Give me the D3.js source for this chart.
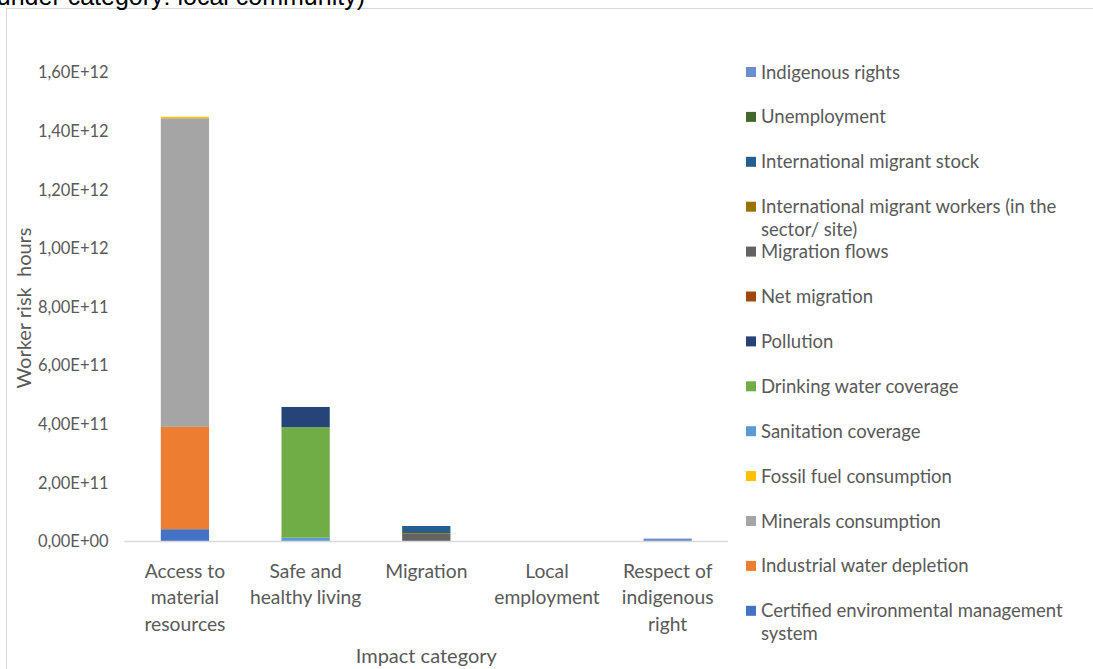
<!DOCTYPE html>
<html>
<head>
<meta charset="utf-8">
<script src="https://cdn.jsdelivr.net/npm/d3@7/dist/d3.min.js"></script>
<style>
  html, body { margin: 0; padding: 0; background: #fff; }
  svg { display: block; }
  text { font-family: Lato, "Open Sans", sans-serif; }
</style>
</head>
<body>
<svg id="chart" width="1093" height="669"></svg>
<script>
// Impact categories (x axis), with the line breaks used under the axis
const categories = [
  "Access to material resources",
  "Safe and healthy living",
  "Migration",
  "Local employment",
  "Respect of indigenous right"
];
const categoryLines = [
  ["Access to", "material", "resources"],
  ["Safe and", "healthy living"],
  ["Migration"],
  ["Local", "employment"],
  ["Respect of", "indigenous", "right"]
];

// Series, stacked bottom to top (worker risk hours per category)
const seriesNames = [
  "Certified environmental management system",
  "Industrial water depletion",
  "Minerals consumption",
  "Fossil fuel consumption",
  "Sanitation coverage",
  "Drinking water coverage",
  "Pollution",
  "Net migration",
  "Migration flows",
  "International migrant workers (in the sector/ site)",
  "International migrant stock",
  "Unemployment",
  "Indigenous rights"
];
const certifiedEms       = [4.2e10, 0, 0, 0, 0];
const industrialWater    = [3.49e11, 0, 0, 0, 0];
const mineralsConsumption= [1.053e12, 0, 0, 0, 0];
const fossilFuel         = [5e9, 0, 0, 0, 0];
const sanitation         = [0, 1.3e10, 0, 0, 0];
const drinkingWater      = [0, 3.77e11, 0, 0, 0];
const pollution          = [0, 6.9e10, 0, 0, 0];
const netMigration       = [0, 0, 0, 0, 0];
const migrationFlows     = [0, 0, 2.6e10, 0, 0];
const migrantWorkers     = [0, 0, 3e9, 0, 0];
const migrantStock       = [0, 0, 2.4e10, 0, 0];
const unemployment       = [0, 0, 0, 0, 0];
const indigenousRights   = [0, 0, 0, 0, 1e10];

const seriesValues = [
  certifiedEms, industrialWater, mineralsConsumption, fossilFuel,
  sanitation, drinkingWater, pollution, netMigration, migrationFlows,
  migrantWorkers, migrantStock, unemployment, indigenousRights
];
const seriesColors = [
  "#4472C4", "#ED7D31", "#A5A5A5", "#FFC000", "#5B9BD5", "#70AD47",
  "#264478", "#9E480E", "#636363", "#997300", "#255E91", "#43682B", "#698ED0"
];

const yTicks = [0, 2e11, 4e11, 6e11, 8e11, 1e12, 1.2e12, 1.4e12, 1.6e12];

// Build the table for d3.stack
const table = categories.map((c, i) => {
  const row = { category: c };
  seriesNames.forEach((s, j) => { row[s] = seriesValues[j][i]; });
  return row;
});
const stacked = d3.stack().keys(seriesNames)(table);

const svg = d3.select("#chart");
const textColor = "#595959";

// Outer chart frame
svg.append("rect")
  .attr("x", 6.5).attr("y", 8.5)
  .attr("width", 1200).attr("height", 800)
  .attr("fill", "none").attr("stroke", "#D9D9D9").attr("stroke-width", 1);

// Caption line running off the top of the page
svg.append("text")
  .attr("x", 365).attr("y", 5)
  .attr("text-anchor", "end")
  .attr("font-size", 25)
  .attr("fill", "#000")
  .style("font-family", "'Liberation Sans', sans-serif")
  .text("(Subcategories under category: local community)");

const plot = { left: 124.6, right: 728, top: 72.5, bottom: 541.5 };

const x = d3.scaleBand()
  .domain(categories)
  .range([plot.left, plot.right])
  .paddingInner(0.6).paddingOuter(0.3);

const y = d3.scaleLinear()
  .domain([0, 1.6e12])
  .range([plot.bottom, plot.top]);

// Bars
svg.append("g").selectAll("g")
  .data(stacked)
  .join("g")
  .attr("fill", (d, i) => seriesColors[i])
  .selectAll("rect")
  .data(d => d.map((v, i) => ({ v, cat: categories[i] })))
  .join("rect")
  .attr("x", d => x(d.cat))
  .attr("width", x.bandwidth())
  .attr("y", d => y(d.v[1]))
  .attr("height", d => Math.max(0, y(d.v[0]) - y(d.v[1])));

// Y tick labels: "1,60E+12" style
const sciFormat = v => {
  const [m, e] = v.toExponential(2).split("e");
  const sign = e[0] === "-" ? "-" : "+";
  const exp = e.replace(/[+-]/, "").padStart(2, "0");
  return m.replace(".", ",") + "E" + sign + exp;
};
const yAxis = d3.axisLeft(y).tickValues(yTicks).tickFormat(sciFormat).tickSize(0).tickPadding(16);
const yg = svg.append("g").attr("transform", `translate(${plot.left},0)`).call(yAxis);
yg.select(".domain").remove();
yg.selectAll("text")
  .attr("fill", textColor)
  .attr("font-size", 16.5)
  .style("font-family", "Lato, sans-serif");

// X axis baseline
const xAxis = d3.axisBottom(x).tickSize(0).tickFormat("");
const xg = svg.append("g").attr("transform", `translate(0,${plot.bottom})`).call(xAxis);
xg.select(".domain")
  .attr("stroke", "#D9D9D9").attr("stroke-width", 1.5)
  .attr("d", `M${plot.left},0H${plot.right}`);

// Category labels (multi-line)
const catLabels = svg.append("g");
categories.forEach((c, i) => {
  const t = catLabels.append("text")
    .attr("x", x(c) + x.bandwidth() / 2)
    .attr("y", 578)
    .attr("text-anchor", "middle")
    .attr("fill", textColor)
    .attr("font-size", 19.3);
  categoryLines[i].forEach((line, k) => {
    t.append("tspan")
      .attr("x", x(c) + x.bandwidth() / 2)
      .attr("dy", k === 0 ? 0 : 26.3)
      .text(line);
  });
});

// Axis titles
svg.append("text")
  .attr("x", (plot.left + plot.right) / 2)
  .attr("y", 663)
  .attr("text-anchor", "middle")
  .attr("fill", textColor)
  .attr("font-size", 20)
  .text("Impact category");

svg.append("text")
  .attr("transform", "translate(31,308) rotate(-90)")
  .attr("text-anchor", "middle")
  .attr("fill", textColor)
  .attr("font-size", 20)
  .attr("xml:space", "preserve")
  .style("white-space", "pre")
  .text("Worker risk  hours");

// Legend: listed top series first
const legend = svg.append("g");
const legendOrder = seriesNames.map((s, i) => i).reverse();
const legendWidth = 310;
legendOrder.forEach((si, row) => {
  const cy = 72 + row * 44.9;
  legend.append("rect")
    .attr("x", 746).attr("y", cy - 5)
    .attr("width", 10).attr("height", 10)
    .attr("fill", seriesColors[si]);
  const t = legend.append("text")
    .attr("x", 761).attr("y", cy + 6.5)
    .attr("fill", textColor)
    .attr("font-size", 18.5);
  // simple word wrap
  const words = seriesNames[si].split(" ");
  let line = [];
  let tspan = t.append("tspan").attr("x", 761).attr("dy", 0);
  words.forEach(w => {
    line.push(w);
    tspan.text(line.join(" "));
    if (tspan.node().getComputedTextLength() > legendWidth && line.length > 1) {
      line.pop();
      tspan.text(line.join(" "));
      line = [w];
      tspan = t.append("tspan").attr("x", 761).attr("dy", 22.5).text(w);
    }
  });
});
</script>
</body>
</html>
